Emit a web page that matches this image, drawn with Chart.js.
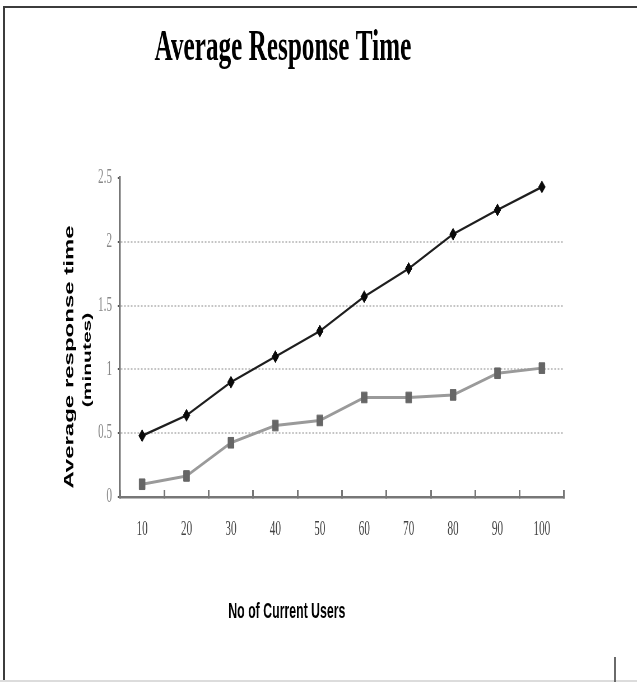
<!DOCTYPE html>
<html>
<head>
<meta charset="utf-8">
<title>Average Response Time</title>
<script src="https://cdn.jsdelivr.net/npm/chart.js@4.4.1/dist/chart.umd.min.js"></script>
<style>
  html, body { margin: 0; padding: 0; background: #fff; overflow: hidden; }
  #wrap { position: relative; width: 637px; height: 682px; overflow: hidden; background: #fff; }
  /* the source picture is squeezed sideways, so the whole canvas is too */
  #response_chart { position: absolute; left: 0; top: 0; transform: scaleX(0.5602); transform-origin: 0 0; }
  .ln { position: absolute; }
</style>
</head>
<body>
<div id="wrap">
  <canvas id="response_chart" width="1137" height="682"></canvas>
  <div class="ln" style="left:3px;top:6px;width:634px;height:2px;background:#3c3c3c"></div>
  <div class="ln" style="left:3px;top:6px;width:2px;height:676px;background:#3c3c3c"></div>
  <div class="ln" style="left:0;top:680px;width:637px;height:2px;background:#dcdcdc"></div>
  <div class="ln" style="left:614px;top:657px;width:2px;height:25px;background:#6a6a6a"></div>
</div>
<script>
// data
var chartTitle = "Average Response Time";
var xTitle = "No of Current Users";
var yTitle = "Average response time";
var yUnit = "(minutes)";
var users = ["10", "20", "30", "40", "50", "60", "70", "80", "90", "100"];
var seriesUpper = [0.48, 0.64, 0.90, 1.10, 1.30, 1.57, 1.79, 2.06, 2.25, 2.43];
var seriesLower = [0.10, 0.165, 0.425, 0.56, 0.60, 0.78, 0.78, 0.80, 0.97, 1.01];
var yMin = 0, yMax = 2.5, yStep = 0.5;

var textPlugin = {
  id: 'texts',
  afterDraw: function (chart) {
    var ctx = chart.ctx;
    ctx.save();
    ctx.fillStyle = '#000';
    ctx.textAlign = 'center';
    ctx.textBaseline = 'alphabetic';

    ctx.font = 'bold 45px "Liberation Serif"';
    ctx.fillText(chartTitle, 505, 60);

    ctx.font = 'bold 22px "Liberation Sans"';
    ctx.fillText(xTitle, 512, 618);

    ctx.save();
    ctx.translate(131, 357);
    ctx.rotate(-Math.PI / 2);
    ctx.font = 'bold 24px "Liberation Sans"';
    ctx.fillText(yTitle, 0, 0);
    ctx.restore();

    ctx.save();
    ctx.translate(162, 360);
    ctx.rotate(-Math.PI / 2);
    ctx.font = 'bold 21px "Liberation Sans"';
    ctx.fillText(yUnit, 0, 0);
    ctx.restore();

    ctx.restore();
  }
};

new Chart(document.getElementById("response_chart"), {
  type: 'line',
  data: {
    labels: users,
    datasets: [
      {
        label: "upper",
        data: seriesUpper,
        borderColor: '#1e1e1e',
        borderWidth: 2.5,
        pointStyle: 'rectRot',
        pointRadius: 6,
        pointBackgroundColor: '#0a0a0a',
        pointBorderColor: '#0a0a0a',
        pointBorderWidth: 1,
        tension: 0
      },
      {
        label: "lower",
        data: seriesLower,
        borderColor: '#9a9a9a',
        borderWidth: 3,
        pointStyle: 'rect',
        pointRadius: 7.5,
        pointBackgroundColor: '#666',
        pointBorderColor: '#666',
        pointBorderWidth: 1,
        tension: 0
      }
    ]
  },
  options: {
    responsive: false,
    animation: false,
    layout: { padding: { left: 0, right: 130, top: 178, bottom: 125 } },
    plugins: {
      legend: { display: false },
      title: { display: false },
      tooltip: { enabled: false }
    },
    scales: {
      x: {
        type: 'category',
        offset: true,
        afterFit: function (scale) { scale.height = 60; },
        grid: {
          offset: true,
          drawOnChartArea: false,
          drawTicks: true,
          tickLength: -7,
          tickColor: '#777',
          tickWidth: 3
        },
        border: { display: true, color: '#777', width: 2.5 },
        ticks: {
          color: '#444',
          padding: 28,
          maxRotation: 0,
          autoSkip: false,
          font: { family: '"Liberation Serif"', size: 20 }
        }
      },
      y: {
        min: yMin,
        max: yMax,
        afterFit: function (scale) { scale.width = 214; },
        grid: {
          color: function (c) {
            if (!c.tick || c.tick.value === yMin || c.tick.value === yMax) return 'rgba(0,0,0,0)';
            return '#c4c4c4';
          },
          lineWidth: 2,
          drawTicks: true,
          tickLength: 4,
          tickColor: '#555',
          tickWidth: 2
        },
        border: { display: true, color: '#777', width: 3.5, dash: [3, 3] },
        ticks: {
          stepSize: yStep,
          color: '#888',
          padding: 10,
          font: { family: '"Liberation Serif"', size: 20 },
          callback: function (value) { return String(value); }
        }
      }
    }
  },
  plugins: [textPlugin]
});
</script>
</body>
</html>
